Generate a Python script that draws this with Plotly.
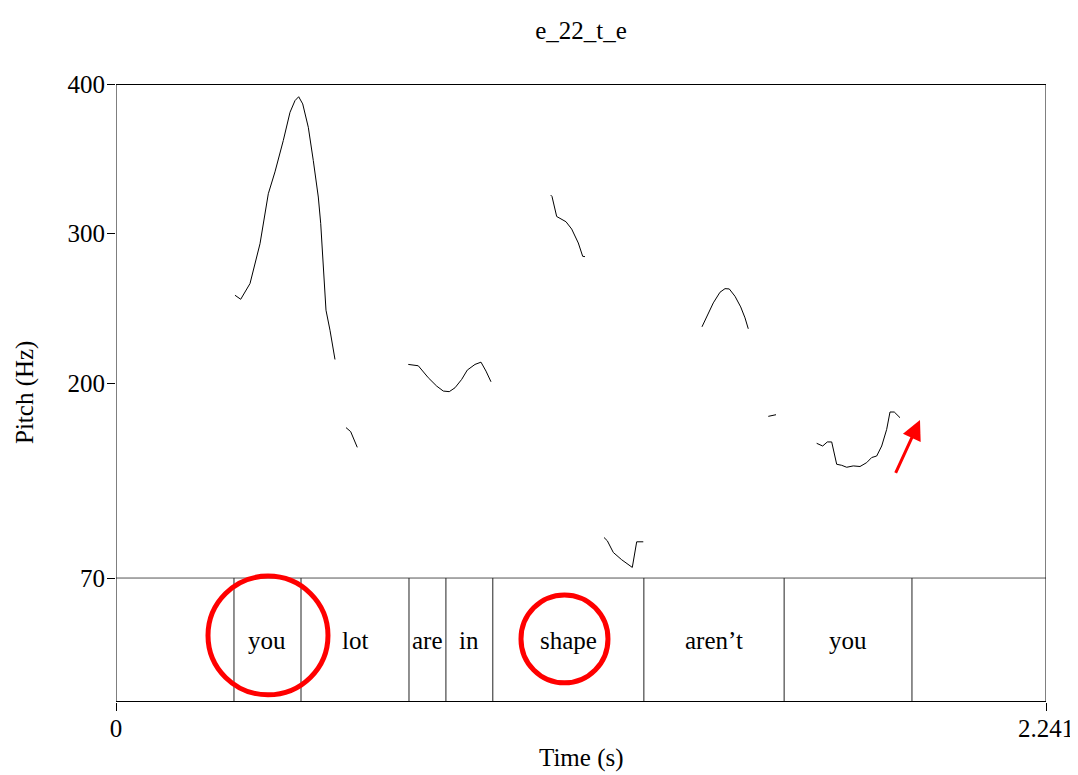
import plotly.graph_objects as go

# ---- data (time in s, pitch in Hz) ----
seg1_t = [0.2867, 0.3005, 0.3229, 0.3470, 0.3670, 0.3831, 0.4031, 0.4193, 0.4313, 0.4402,
          0.4499, 0.4634, 0.4754, 0.4875, 0.4933, 0.4995, 0.5060, 0.5157, 0.5277]
seg1_f = [258.9, 256.2, 266.7, 293.3, 326.7, 341.3, 362.2, 381.1, 388.9, 391.5,
          386.7, 371.1, 348.9, 324.5, 306.7, 275.5, 248.9, 235.5, 216.0]
seg2_t = [0.5542, 0.5655, 0.5814]
seg2_f = [170.5, 167.8, 157.3]
seg3_t = [0.7043, 0.7284, 0.7525, 0.7728, 0.7887, 0.8031, 0.8169, 0.8330, 0.8465, 0.8651,
          0.8795, 0.8916, 0.9036]
seg3_f = [212.7, 211.8, 203.8, 198.2, 194.9, 194.5, 197.1, 202.7, 208.9, 212.7,
          214.2, 208.2, 201.1]
seg4_t = [1.0475, 1.0506, 1.0619, 1.0716, 1.0843, 1.0981, 1.1140, 1.1246, 1.1301]
seg4_f = [325.8, 324.9, 311.5, 309.8, 308.0, 303.1, 293.8, 284.9, 284.7]
seg5_t = [1.1759, 1.1839, 1.1983, 1.2186, 1.2441, 1.2547, 1.2706]
seg5_f = [97.1, 94.9, 87.1, 82.2, 77.1, 94.2, 94.2]
seg6_t = [1.4120, 1.4234, 1.4393, 1.4554, 1.4675, 1.4778, 1.4916, 1.5053, 1.5157, 1.5236]
seg6_f = [237.8, 244.9, 253.8, 260.9, 263.3, 263.1, 258.2, 251.1, 243.8, 236.5]
seg7_t = [1.5718, 1.5904]
seg7_f = [178.0, 179.1]
seg8_t = [1.6884, 1.7029, 1.7140, 1.7246, 1.7366, 1.7487, 1.7607, 1.7766, 1.7928, 1.8089,
          1.8210, 1.8330, 1.8451, 1.8571, 1.8651, 1.8754, 1.8892]
seg8_f = [160.0, 158.2, 160.9, 160.9, 146.0, 145.3, 144.0, 144.9, 144.5, 147.1,
          150.5, 151.5, 158.2, 169.3, 180.9, 180.9, 177.1]

segments = [(seg1_t, seg1_f), (seg2_t, seg2_f), (seg3_t, seg3_f), (seg4_t, seg4_f),
            (seg5_t, seg5_f), (seg6_t, seg6_f), (seg7_t, seg7_f), (seg8_t, seg8_f)]

# text tier
boundaries = [0.2843, 0.4458, 0.7060, 0.7950, 0.9080, 1.2720, 1.6100, 1.9180]
words = ["you", "lot", "are", "in", "shape", "aren’t", "you"]

t_max = 2.241
f_min, f_max = 70, 400
tier_bottom = -12.8
y_ticks = [70, 200, 300, 400]

# highlight marks
circles = [(0.2217, 0.5108, -8.0, 71.3), (0.9759, 1.1855, 0.0, 58.7)]
arrow_from = (1.8771, 139.3)
arrow_to = (1.9373, 175.5)

FONT = "Liberation Serif, Times New Roman, serif"

# page has an 8px body margin, so the figure is sized to fit the 1078x775 window
W, H = 1070, 767
ML, MR, MT, MB = 108, 32, 76, 73
PW, PH = W - ML - MR, H - MT - MB

fig = go.Figure()
for t, f in segments:
    fig.add_trace(go.Scatter(x=t, y=f, mode="lines", line=dict(color="black", width=1),
                             showlegend=False, hoverinfo="skip"))

shapes = []
shapes.append(dict(type="line", xref="x", yref="y", x0=0, x1=t_max, y0=f_min, y1=f_min,
                   line=dict(color="#555555", width=1)))
for b in boundaries:
    shapes.append(dict(type="line", xref="x", yref="y", x0=b, x1=b, y0=tier_bottom, y1=f_min,
                       line=dict(color="#222222", width=1)))
# frame
shapes.append(dict(type="line", xref="x", yref="y", x0=0, x1=t_max, y0=f_max, y1=f_max,
                   line=dict(color="black", width=2)))
shapes.append(dict(type="line", xref="x", yref="y", x0=0, x1=t_max, y0=tier_bottom, y1=tier_bottom,
                   line=dict(color="black", width=2)))
shapes.append(dict(type="line", xref="x", yref="y", x0=0, x1=0, y0=tier_bottom, y1=f_max,
                   line=dict(color="black", width=1)))
shapes.append(dict(type="line", xref="x", yref="y", x0=t_max, x1=t_max, y0=tier_bottom, y1=f_max,
                   line=dict(color="black", width=1)))
for x0, x1, y0, y1 in circles:
    shapes.append(dict(type="circle", xref="x", yref="y", x0=x0, x1=x1, y0=y0, y1=y1,
                       line=dict(color="#ff0000", width=5)))

annotations = []
tier_mid = (f_min + tier_bottom) / 2
for i, w in enumerate(words):
    xm = (boundaries[i] + boundaries[i + 1]) / 2
    annotations.append(dict(x=xm, y=tier_mid, xref="x", yref="y", text=w, showarrow=False,
                            font=dict(family=FONT, size=25, color="black")))
annotations.append(dict(x=arrow_to[0], y=arrow_to[1], ax=arrow_from[0], ay=arrow_from[1],
                        xref="x", yref="y", axref="x", ayref="y", text="", showarrow=True,
                        arrowhead=2, arrowsize=1.3, arrowwidth=3, arrowcolor="#ff0000"))
# axis titles
annotations.append(dict(x=0.5, y=-56 / PH, xref="paper", yref="paper", text="Time (s)",
                        showarrow=False, xanchor="center", yanchor="middle",
                        font=dict(family=FONT, size=25, color="black")))
annotations.append(dict(x=-91 / PW, y=0.5, xref="paper", yref="paper", text="Pitch (Hz)",
                        showarrow=False, xanchor="center", yanchor="middle", textangle=-90,
                        font=dict(family=FONT, size=25, color="black")))

fig.update_layout(
    width=W, height=H,
    margin=dict(l=ML, r=MR, t=MT, b=MB, autoexpand=False),
    paper_bgcolor="white", plot_bgcolor="white",
    title=dict(text="e_22_t_e", x=0.5, xref="paper", xanchor="center", y=1 - 22 / H,
               yanchor="middle", font=dict(family=FONT, size=25, color="black"), automargin=False),
    font=dict(family=FONT, size=25, color="black"),
    xaxis=dict(range=[0, t_max], tickvals=[0, t_max], ticktext=["0", "2.241"], automargin=False,
               ticks="outside", ticklen=8, tickcolor="black", showgrid=False, zeroline=False,
               showline=False, ticklabelstandoff=-4,
               tickfont=dict(family=FONT, size=25)),
    yaxis=dict(range=[tier_bottom, f_max], tickvals=y_ticks, ticktext=[str(v) for v in y_ticks],
               ticks="outside", ticklen=8, tickcolor="black", showgrid=False, zeroline=False,
               showline=False, automargin=False, ticklabelstandoff=-3,
               tickfont=dict(family=FONT, size=25)),
    shapes=shapes, annotations=annotations,
)

fig.write_html("out.html")
